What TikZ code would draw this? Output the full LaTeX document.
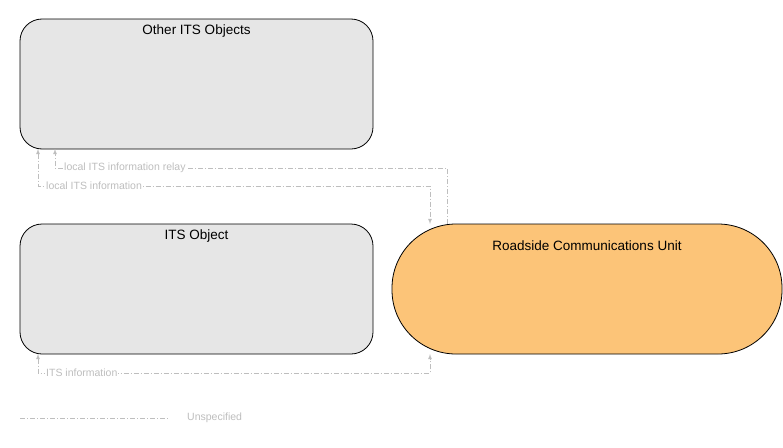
\documentclass[tikz,border=0pt]{standalone}
\usepackage{fontspec}
\setmainfont{Liberation Sans}
\usetikzlibrary{positioning}
\definecolor{boxgray}{RGB}{230,230,230}
\definecolor{rsuorange}{RGB}{252,196,120}
\definecolor{flowgray}{RGB}{190,190,190}
\tikzset{
  objbox/.style = {draw, thick, fill=boxgray, rounded corners=22pt, minimum width=353pt,
                   minimum height=130pt, inner sep=0pt},
  rsubox/.style = {draw, thick, fill=rsuorange, rounded corners=64pt, minimum width=390pt,
                   minimum height=130pt, inner sep=0pt},
  title/.style  = {font=\fontsize{13.5}{15}\selectfont},
  flow/.style   = {draw=flowgray, dash pattern=on 5pt off 2pt on 1pt off 2pt, thick, -latex},
  flowlbl/.style = {text=flowgray, font=\fontsize{10.5}{12}\selectfont, inner sep=1pt, fill=white}
}
\begin{document}
\begin{tikzpicture}[x=1pt,y=-1pt]
\useasboundingbox (0,0) rectangle (783,447);

\node[objbox] (other) at (196.5,84) {};
\node[title, below=3pt of other.north] (otherlbl) {Other ITS Objects};
\node[objbox] (its) at (196.5,289) {};
\node[title, below=3pt of its.north] (itslbl) {ITS Object};
\node[rsubox] (rsu) at (587,289) {};
\node[title, below=14pt of rsu.north] (rsulbl) {Roadside Communications Unit};

% flows
\coordinate (a1) at (447,224);
\coordinate (a2) at (430,224);
\coordinate (a3) at (430,354);
\coordinate (o1) at (55,149);
\coordinate (o2) at (38,149);
\coordinate (i1) at (38,354);
\draw[flow] (a1) |- (55,168) -- (o1);
\draw[flow, latex-latex] (o2) |- (430,186) -- (a2);
\draw[flow, latex-latex] (i1) |- (430,373) -- (a3);
\node[flowlbl, anchor=west] (l1) at (63,168) {local ITS information relay};
\node[flowlbl, anchor=west] (l2) at (45,186) {local ITS information};
\node[flowlbl, anchor=west] (l3) at (45,373) {ITS information};

% legend
\coordinate (g1) at (20,418);
\coordinate (g2) at (168,418);
\draw[flow, -] (g1) -- (g2);
\node[flowlbl, anchor=west] (leg) at (186,418) {Unspecified};
\end{tikzpicture}
\end{document}
